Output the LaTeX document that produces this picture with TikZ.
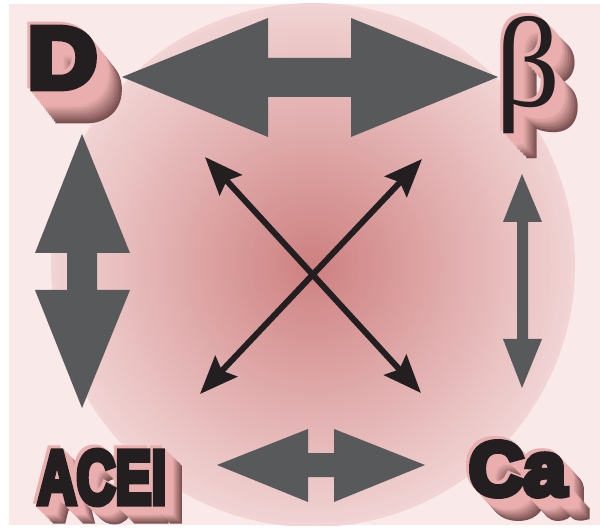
\documentclass[tikz,border=0pt]{standalone}
\usepackage{fontspec}
\usepackage{graphicx}
\usetikzlibrary{arrows.meta, positioning}

\newfontfamily\heavyfont[FakeBold=8]{Liberation Sans Bold}
\newfontfamily\greekfont{Liberation Serif}

\definecolor{bgpink}{RGB}{249,233,233}
\definecolor{discin}{RGB}{206,128,128}
\definecolor{discout}{RGB}{242,212,212}
\definecolor{blockgrey}{RGB}{88,89,91}
\definecolor{inkblack}{RGB}{35,31,32}
\definecolor{extnear}{RGB}{234,174,174}
\definecolor{extfar}{RGB}{122,80,80}

\begin{document}
\begin{tikzpicture}[
		x=1pt, y=-1pt,
		bigarrow/.style={fill=blockgrey},
		thinarr/.style={{Stealth[length=38pt, width=30pt, inset=6pt]}-{Stealth[length=38pt, width=30pt, inset=6pt]},
			line width=6pt, draw=inkblack, fill=inkblack},
		lbl/.style={inner sep=0pt, text=inkblack, font=\heavyfont}
	]
	% background and disc
	\fill[white] (0,0) rectangle (600,529);
	\fill[bgpink] (9,4) rectangle (600,525);
	\begin{scope}
		\clip (9,4) rectangle (600,525);
		\foreach \r in {262,258,...,2} {
			\pgfmathtruncatemacro\q{\r/2.62}
			\fill[discout!\q!discin] (313,265) circle (\r);
		}
	\end{scope}

	% block arrows
	\fill[bigarrow] (122,77) -- (268,18) -- (268,58) -- (351,58) -- (351,18) -- (498,77)
		-- (351,137) -- (351,97) -- (268,97) -- (268,137) -- cycle;
	\fill[bigarrow] (82,134) -- (130,253) -- (97,253) -- (97,290) -- (130,290) -- (82,408)
		-- (35,290) -- (67,290) -- (67,253) -- (35,253) -- cycle;
	\fill[bigarrow] (522,174) -- (542,222) -- (528,222) -- (528,339) -- (542,339) -- (522,388)
		-- (503,339) -- (517,339) -- (517,222) -- (503,222) -- cycle;
	\fill[bigarrow] (217,465) -- (308,429) -- (308,453) -- (334,453) -- (334,429) -- (425,465)
		-- (334,502) -- (334,477) -- (308,477) -- (308,502) -- cycle;

	% crossing arrows
	\coordinate (nw) at (205,157);
	\coordinate (se) at (421,393);
	\coordinate (sw) at (200,394);
	\coordinate (ne) at (422,159);
	\draw[thinarr] (nw) -- (se);
	\draw[thinarr] (sw) -- (ne);

	% labels with extruded shadow
	\foreach \nm/\txt/\px/\py/\dx/\dy in {
		D/{\scalebox{1.1}[1]{\fontsize{87}{87}\selectfont D}}/62.5/58/25/32,
		beta/{\greekfont\fontsize{128}{128}\selectfont β}/528/75/23/25,
		ACEI/{\scalebox{0.71}[1]{\fontsize{76}{76}\selectfont ACEI}}/102/477.5/17/17,
		Ca/{\fontsize{76}{76}\selectfont Ca}/517.5/469/20/22}
	{
		\foreach \i in {16,...,1} {
			\pgfmathtruncatemacro\p{min(100,(16-\i)*12)}
			\node[lbl, text=extnear!\p!extfar] (\nm-s\i) at (\px+\i*\dx/16, \py+\i*\dy/16) {\txt};
		}
		\node[lbl, text=extnear] (\nm-h) at (\px-3, \py-3) {\txt};
		\node[lbl] (\nm) at (\px, \py) {\txt};
	}
\end{tikzpicture}
\end{document}
